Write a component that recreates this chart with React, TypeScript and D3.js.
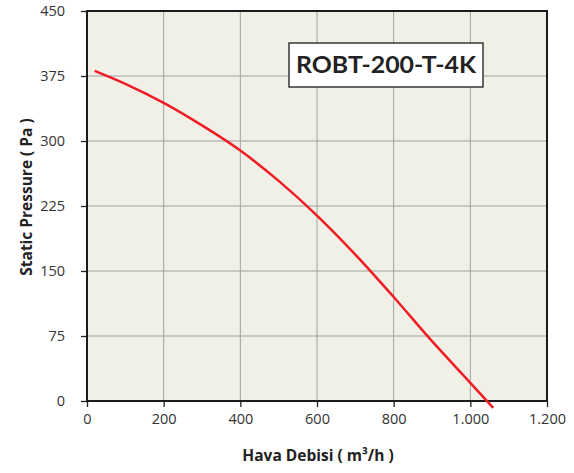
import React, {useEffect, useRef} from "react";
import * as d3 from 'd3';

const WIDTH = 574;
const HEIGHT = 473;
const TITLE = "ROBT-200-T-4K";

// fan curve
const flow = [20, 100, 200, 300, 400, 500, 600, 700, 800, 900, 1000, 1060];
const pressure = [381, 366, 344, 318, 289, 254, 214, 169, 120, 69, 21, -8];
const xTicks = [0, 200, 400, 600, 800, 1000, 1200];
const yTicks = [0, 75, 150, 225, 300, 375, 450];

const fmt = d3.formatLocale({decimal: ",", thousands: ".", grouping: [3], currency: ["", ""]}).format(",");

const App: React.FC = () => {
    const ref = useRef<SVGSVGElement>(null);

    useEffect(() => {
        const svg = d3.select(ref.current);
        svg.selectAll('*').remove();

        const left = 87, right = 547, top = 11, bottom = 401;
        const x = d3.scaleLinear().domain([0, 1200]).range([left, right]);
        const y = d3.scaleLinear().domain([0, 450]).range([bottom, top]);

        svg.append('rect')
            .attr('x', left).attr('y', top)
            .attr('width', right - left).attr('height', bottom - top)
            .attr('fill', '#f1f0e7');

        const grid = svg.append('g');
        grid.selectAll('.gx').data(xTicks.slice(1, -1)).enter().append('line')
            .attr('x1', d => x(d)).attr('x2', d => x(d))
            .attr('y1', top).attr('y2', bottom)
            .attr('stroke', '#a0a0a0').attr('stroke-width', 1);
        grid.selectAll('.gy').data(yTicks.slice(1, -1)).enter().append('line')
            .attr('x1', left).attr('x2', right)
            .attr('y1', d => y(d)).attr('y2', d => y(d))
            .attr('stroke', '#a0a0a0').attr('stroke-width', 1);

        const xAxis = d3.axisBottom(x).tickValues(xTicks).tickSize(6).tickPadding(7)
            .tickFormat(d => fmt(d as number));
        const yAxis = d3.axisLeft(y).tickValues(yTicks).tickSize(6).tickPadding(16);

        const xg = svg.append('g').attr('transform', `translate(0,${bottom})`).call(xAxis);
        const yg = svg.append('g').attr('transform', `translate(${left},0)`).call(yAxis);
        [xg, yg].forEach(g => {
            g.select('.domain').remove();
            g.selectAll('line').attr('stroke', '#222').attr('stroke-width', 1.3);
            g.selectAll('text')
                .attr('font-family', 'Open Sans, sans-serif')
                .attr('font-size', 14.5)
                .attr('fill', '#333');
        });

        svg.append('rect')
            .attr('x', left).attr('y', top)
            .attr('width', right - left).attr('height', bottom - top)
            .attr('fill', 'none').attr('stroke', '#1a1a1a').attr('stroke-width', 2);

        const line = d3.line<number>()
            .x((_, i) => x(flow[i]))
            .y((d) => y(d))
            .curve(d3.curveMonotoneX);
        svg.append('path')
            .datum(pressure)
            .attr('d', line)
            .attr('fill', 'none')
            .attr('stroke', '#ee1c24')
            .attr('stroke-width', 2.5);

        // title box
        svg.append('rect')
            .attr('x', 289).attr('y', 43).attr('width', 194).attr('height', 44)
            .attr('fill', '#fff').attr('stroke', '#1a1a1a').attr('stroke-width', 1.3);
        svg.append('text')
            .attr('x', 386).attr('y', 73)
            .attr('text-anchor', 'middle')
            .attr('font-family', 'Lato, sans-serif')
            .attr('font-weight', 'bold')
            .attr('font-size', 22)
            .attr('fill', '#222')
            .attr('textLength', 180)
            .attr('lengthAdjust', 'spacingAndGlyphs')
            .text(TITLE);

        svg.append('text')
            .attr('x', 318).attr('y', 461)
            .attr('text-anchor', 'middle')
            .attr('font-family', 'Open Sans, sans-serif')
            .attr('font-weight', 'bold')
            .attr('font-size', 15.5)
            .attr('fill', '#222')
            .text('Hava Debisi ( m³/h )');

        svg.append('text')
            .attr('transform', `translate(32,197) rotate(-90)`)
            .attr('text-anchor', 'middle')
            .attr('font-family', 'Open Sans, sans-serif')
            .attr('font-weight', 'bold')
            .attr('font-size', 15.5)
            .attr('fill', '#222')
            .text('Static Pressure ( Pa )');
    }, []);

    return (
        <svg ref={ref} width={WIDTH} height={HEIGHT}
             style={{position: 'absolute', left: 0, top: 0, background: '#fff'}}/>
    );
};

export default App;
